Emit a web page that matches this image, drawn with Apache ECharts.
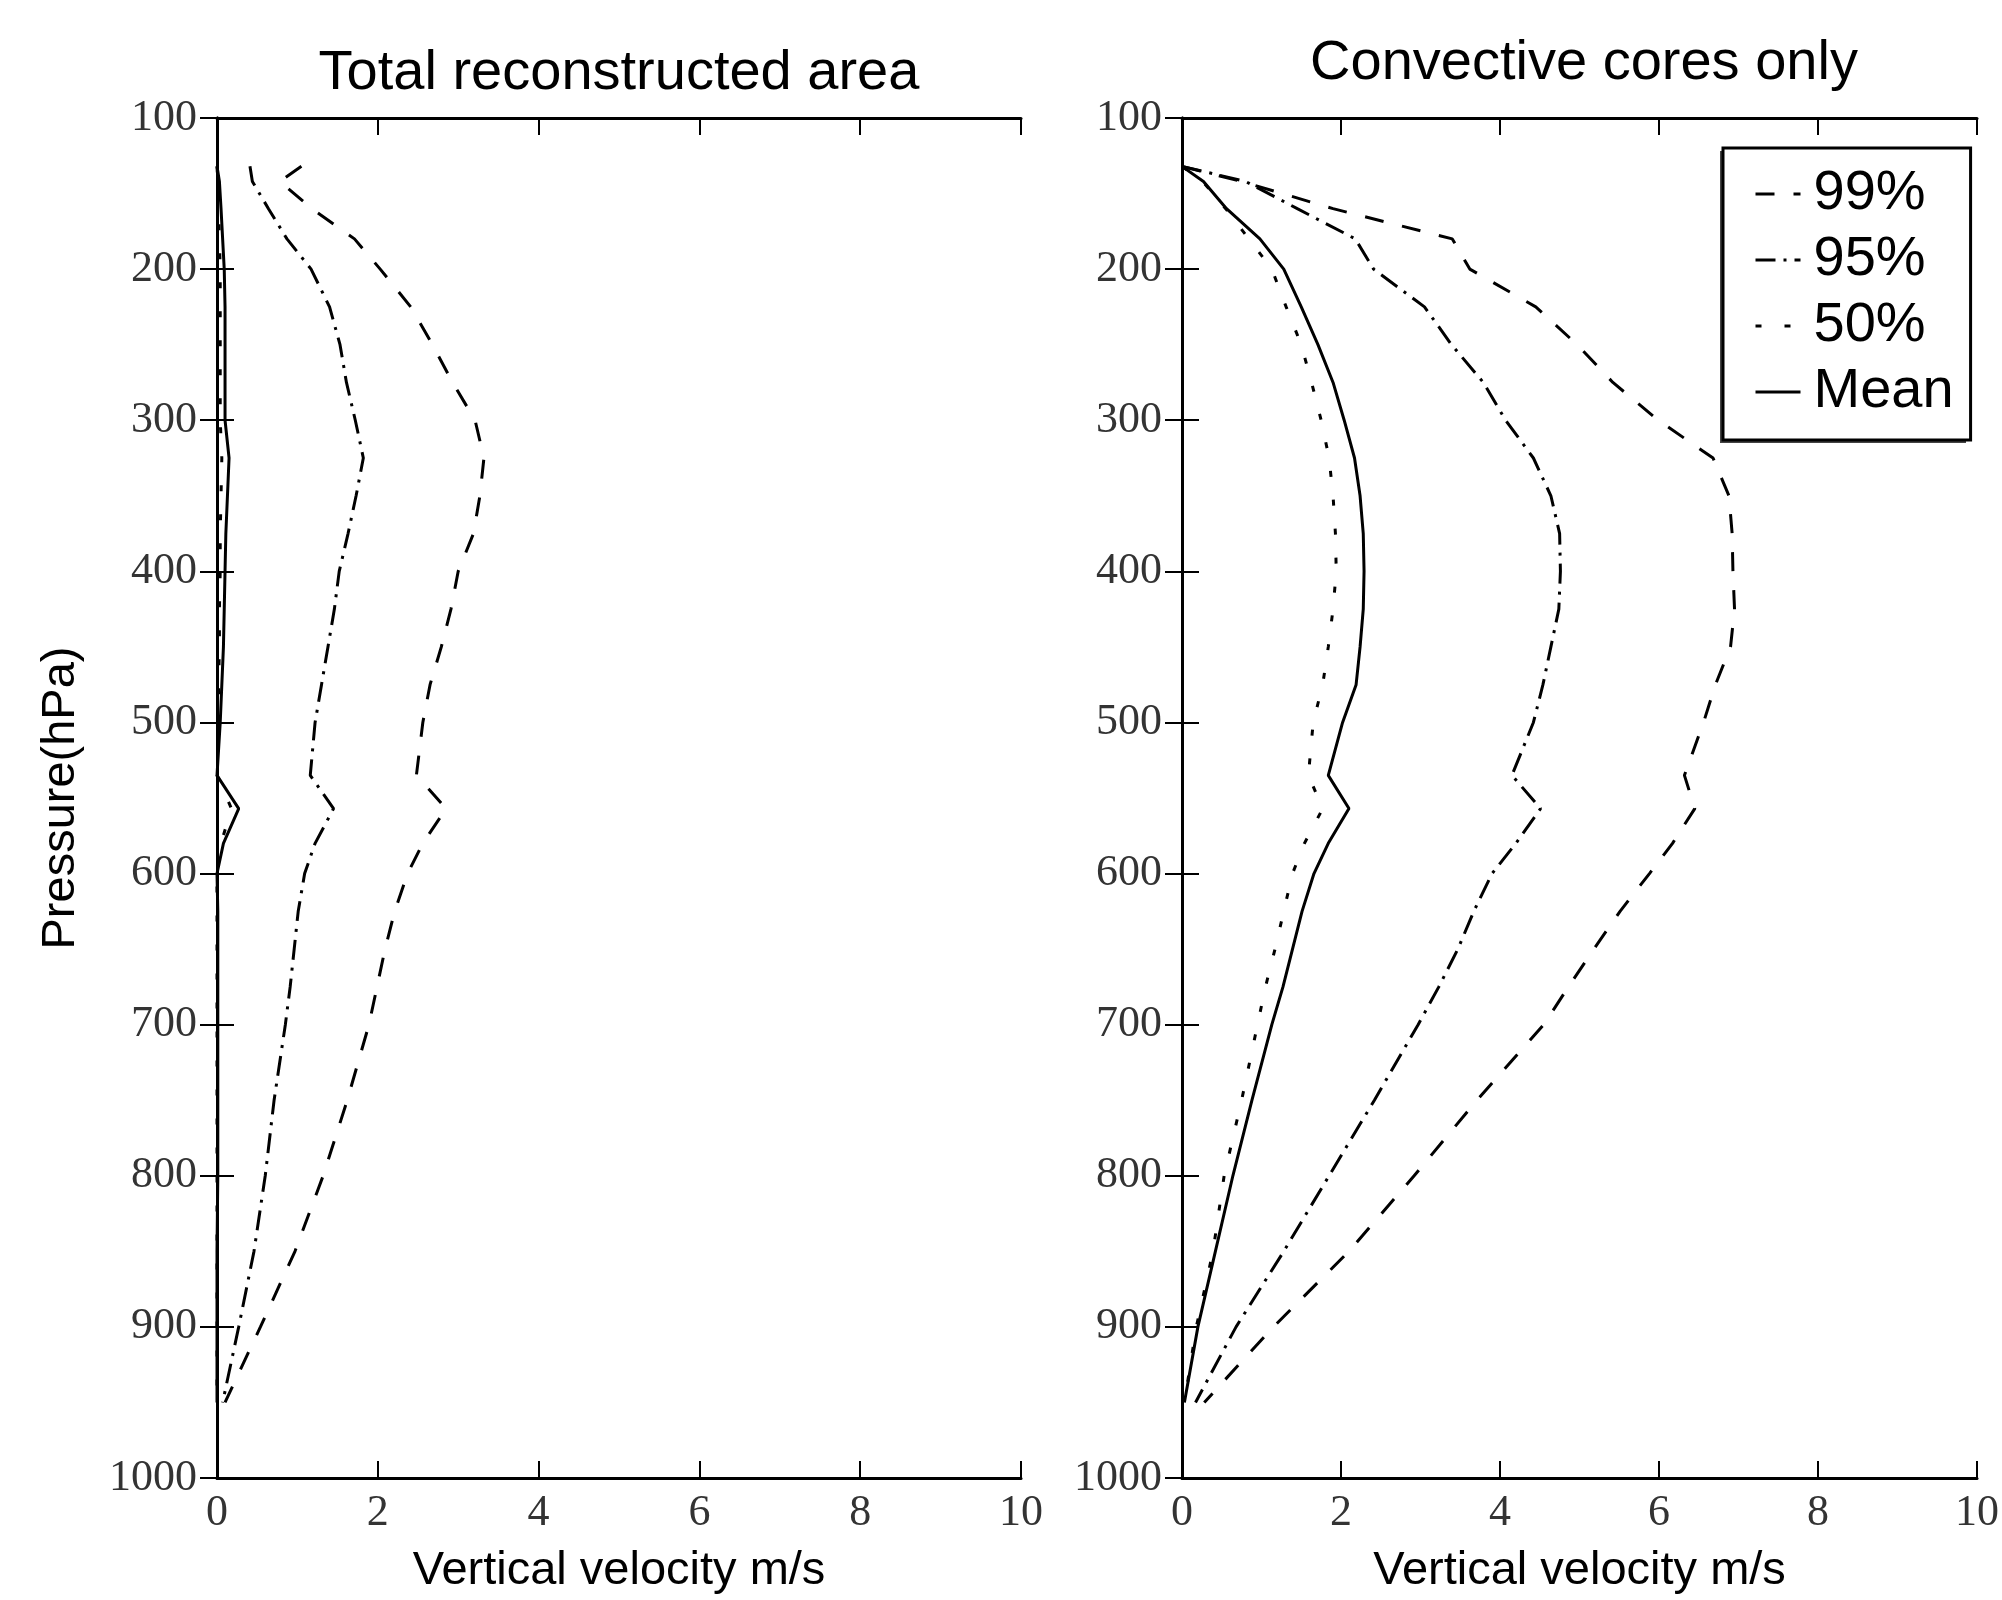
<!DOCTYPE html>
<html>
<head>
<meta charset="UTF-8">
<title>vertical velocity profiles</title>
<script src="https://cdn.jsdelivr.net/npm/echarts@6/dist/echarts.min.js"></script>
<style>
    html, body { margin: 0; padding: 0; background: #fff; }
    #chart { width: 2002px; height: 1600px; }
</style>
</head>
<body>
<div id="chart"></div>
<script type="text/javascript">
    // pressure levels (hPa), shared by every profile
    var pressure = [132, 142, 160, 180, 200, 225, 250, 275, 300, 325, 350, 375, 400, 425, 450, 475, 500, 535, 557, 580, 600, 625, 650, 675, 700, 750, 800, 850, 900, 950];

    // left panel: total reconstructed area (m/s)
    var left99   = [1.05, 0.78, 1.18, 1.71, 2.03, 2.41, 2.68, 2.93, 3.21, 3.32, 3.27, 3.19, 3.0, 2.91, 2.79, 2.65, 2.56, 2.48, 2.85, 2.56, 2.37, 2.21, 2.09, 1.99, 1.89, 1.62, 1.32, 0.97, 0.54, 0.1];
    var left95   = [0.41, 0.44, 0.64, 0.87, 1.17, 1.40, 1.53, 1.61, 1.72, 1.82, 1.73, 1.63, 1.52, 1.46, 1.38, 1.30, 1.22, 1.16, 1.45, 1.22, 1.09, 1.01, 0.96, 0.91, 0.85, 0.71, 0.60, 0.46, 0.27, 0.07];
    var left50   = [0.0, 0.01, 0.02, 0.03, 0.04, 0.04, 0.04, 0.04, 0.04, 0.06, 0.05, 0.04, 0.04, 0.03, 0.03, 0.02, 0.02, 0.0, 0.18, 0.05, 0.0, 0.0, 0.0, 0.0, 0.0, 0.0, 0.0, 0.0, 0.0, 0.0];
    var leftMean = [0.0, 0.03, 0.05, 0.07, 0.09, 0.1, 0.1, 0.1, 0.1, 0.15, 0.13, 0.11, 0.1, 0.09, 0.08, 0.06, 0.04, 0.0, 0.27, 0.08, 0.0, 0.01, 0.01, 0.01, 0.01, 0.01, 0.01, 0.0, 0.0, 0.0];

    // right panel: convective cores only (m/s)
    var right99   = [0.0, 0.75, 1.9, 3.4, 3.62, 4.45, 4.97, 5.42, 5.99, 6.68, 6.88, 6.92, 6.93, 6.95, 6.9, 6.71, 6.56, 6.32, 6.45, 6.17, 5.88, 5.51, 5.18, 4.86, 4.55, 3.71, 2.92, 2.1, 1.15, 0.28];
    var right95   = [0.0, 0.8, 1.45, 2.18, 2.41, 3.05, 3.39, 3.79, 4.07, 4.42, 4.64, 4.75, 4.76, 4.74, 4.64, 4.54, 4.42, 4.15, 4.51, 4.2, 3.9, 3.67, 3.47, 3.23, 2.97, 2.42, 1.85, 1.28, 0.68, 0.17];
    var right50   = [0.0, 0.26, 0.55, 0.84, 1.13, 1.31, 1.50, 1.63, 1.75, 1.85, 1.90, 1.93, 1.94, 1.90, 1.84, 1.77, 1.65, 1.59, 1.77, 1.54, 1.39, 1.28, 1.17, 1.05, 0.95, 0.75, 0.53, 0.39, 0.18, 0.03];
    var rightMean = [0.0, 0.27, 0.56, 0.98, 1.28, 1.50, 1.71, 1.90, 2.04, 2.17, 2.24, 2.28, 2.29, 2.28, 2.24, 2.19, 2.02, 1.84, 2.10, 1.84, 1.66, 1.51, 1.39, 1.27, 1.13, 0.88, 0.64, 0.42, 0.2, 0.03];

    var names = ['99%', '95%', '50%', 'Mean'];
    var dashes = [[19, 19], [20, 8, 3, 8], [6, 23], 'solid'];

    var myChart = echarts.init(document.getElementById('chart'));

    function pairs(vals) {
        return vals.map(function (v, i) { return [v, pressure[i]]; });
    }

    function line(k, vals, g) {
        return {
            name: names[k],
            type: 'line',
            xAxisIndex: g * 2,
            yAxisIndex: g * 2,
            data: pairs(vals),
            symbol: 'none',
            showSymbol: false,
            lineStyle: {color: '#000', width: 3, type: dashes[k]},
            itemStyle: {color: '#000'}
        };
    }

    var tickStyle = {show: true, inside: true, length: 17, lineStyle: {color: '#000', width: 2}};
    var lineStyle = {show: true, lineStyle: {color: '#000', width: 3}};
    var labelFont = {fontFamily: 'Liberation Serif', fontSize: 44, color: '#333'};
    var nameFont = {fontFamily: 'Liberation Sans', fontSize: 47, color: '#000'};
    function plain(v) { return String(v); }

    function xAxes(g) {
        return [{
            gridIndex: g, type: 'value', min: 0, max: 10, interval: 2, position: 'bottom',
            axisLine: lineStyle, axisTick: tickStyle, splitLine: {show: false},
            axisLabel: Object.assign({margin: 13, showMinLabel: true, showMaxLabel: true, formatter: plain}, labelFont),
            name: 'Vertical velocity m/s', nameLocation: 'middle', nameGap: 70, nameTextStyle: nameFont
        }, {
            gridIndex: g, type: 'value', min: 0, max: 10, interval: 2, position: 'top',
            axisLine: lineStyle, axisTick: tickStyle, splitLine: {show: false}, axisLabel: {show: false}
        }];
    }

    function yAxes(g) {
        var a = {
            gridIndex: g, type: 'value', min: 100, max: 1000, interval: 100, inverse: true, position: 'left',
            axisLine: lineStyle, axisTick: tickStyle, splitLine: {show: false},
            axisLabel: Object.assign({margin: 20, showMinLabel: true, showMaxLabel: true, formatter: plain}, labelFont)
        };
        if (g === 0) {
            a.name = 'Pressure(hPa)';
            a.nameLocation = 'middle';
            a.nameGap = 132;
            a.nameTextStyle = nameFont;
        }
        return [a, {
            gridIndex: g, type: 'value', min: 100, max: 1000, interval: 100, inverse: true, position: 'right',
            axisLine: lineStyle, axisTick: tickStyle, splitLine: {show: false}, axisLabel: {show: false}
        }];
    }

    var option = {
        animation: false,
        backgroundColor: '#fff',
        grid: [
            {left: 217, right: 981, top: 118, bottom: 112},
            {left: 1182, right: 16, top: 118, bottom: 112}
        ],
        xAxis: xAxes(0).concat(xAxes(1)),
        yAxis: yAxes(0).concat(yAxes(1)),
        graphic: [
            {type: 'text', x: 619, y: 74, style: {text: 'Total reconstructed area', font: '56px "Liberation Sans"', fill: '#000', align: 'center', textAlign: 'center', verticalAlign: 'middle', textVerticalAlign: 'middle'}},
            {type: 'text', x: 1584, y: 64, style: {text: 'Convective cores only', font: '56px "Liberation Sans"', fill: '#000', align: 'center', textAlign: 'center', verticalAlign: 'middle', textVerticalAlign: 'middle'}},
            // legend shadow, offset down-left like the original
            {type: 'rect', z: 1, shape: {x: 1720, y: 151, width: 246, height: 292}, style: {fill: '#444'}}
        ],
        legend: {
            data: names.map(function (n, k) {
                return {name: n, lineStyle: {color: '#000', width: 3, type: dashes[k]}};
            }),
            orient: 'vertical',
            left: 1723,
            top: 148,
            padding: [18, 17, 20, 31],
            itemWidth: 45,
            itemHeight: 14,
            itemGap: 10,
            selectedMode: false,
            backgroundColor: '#fff',
            borderColor: '#000',
            borderWidth: 3,
            borderRadius: 0,
            z: 5,
            itemStyle: {opacity: 0},
            textStyle: {fontFamily: 'Liberation Sans', fontSize: 56, lineHeight: 56, color: '#000', padding: [0, 0, 0, 8]}
        },
        series: [
            line(0, left99, 0), line(1, left95, 0), line(2, left50, 0), line(3, leftMean, 0),
            line(0, right99, 1), line(1, right95, 1), line(2, right50, 1), line(3, rightMean, 1)
        ]
    };
    myChart.setOption(option);
</script>
</body>
</html>
